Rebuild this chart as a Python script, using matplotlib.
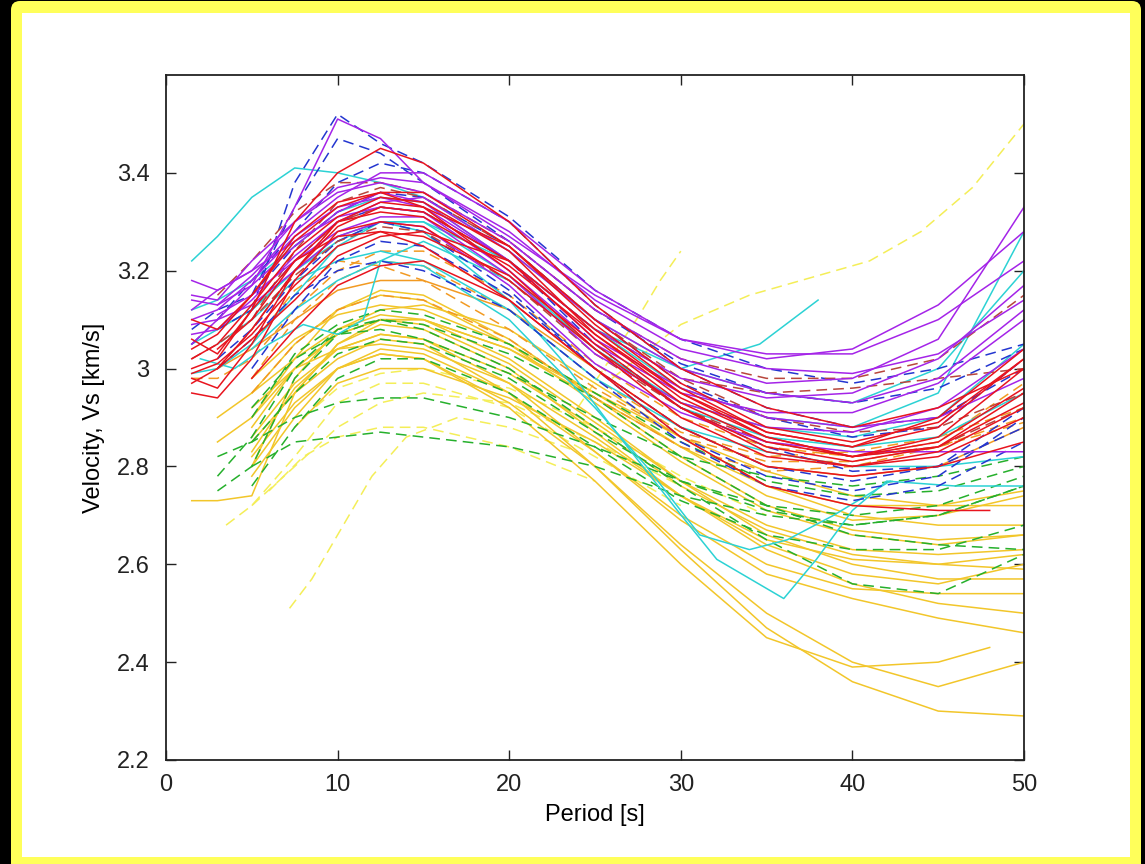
import numpy as np
import matplotlib
matplotlib.use("Agg")
import matplotlib.pyplot as plt
from matplotlib.patches import FancyBboxPatch, Rectangle
from matplotlib.transforms import IdentityTransform

nan = np.nan

# common period grid (s)
period = [1.5, 3, 5, 7.5, 10, 12.5, 15, 20, 25, 30, 35, 40, 45, 50]

purple_solid = [
    [3.05, 3.10, 3.17, 3.33, 3.51, 3.47, 3.38, 3.27, 3.15, 3.06, 3.03, 3.03, 3.10, 3.22],
    [3.15, 3.14, 3.22, 3.30, 3.36, 3.38, 3.36, 3.26, 3.12, 3.02, 2.97, 2.98, 3.06, 3.33],
    [3.10, 3.12, 3.18, 3.27, 3.33, 3.35, 3.33, 3.22, 3.08, 2.98, 2.94, 2.95, 3.02, 3.17],
    [3.12, 3.16, 3.20, 3.26, 3.31, 3.33, 3.32, 3.20, 3.05, 2.95, 2.91, 2.91, 2.97, 3.10],
    [3.07, 3.08, 3.14, 3.23, 3.30, 3.34, 3.35, 3.24, 3.10, 3.00, 2.95, 2.93, 2.98, 3.12],
    [nan, 3.11, 3.15, 3.22, 3.28, 3.31, 3.31, 3.19, 3.03, 2.93, 2.88, 2.87, 2.92, 3.04],
    [3.18, 3.16, 3.20, 3.30, 3.37, 3.39, 3.38, 3.28, 3.14, 3.04, 3.00, 2.99, 3.03, 3.14],
    [nan, 3.13, 3.17, 3.25, 3.32, 3.36, 3.34, 3.22, 3.06, 2.96, 2.90, 2.88, 2.90, 2.98],
    [3.09, 3.10, 3.13, 3.20, 3.27, 3.30, 3.29, 3.17, 3.01, 2.91, 2.85, 2.83, 2.83, 2.83],
    [3.14, 3.13, 3.19, 3.28, 3.35, 3.40, 3.40, 3.30, 3.16, 3.06, 3.02, 3.04, 3.13, 3.28],
]

red_solid = [
    [3.00, 3.02, 3.12, 3.30, 3.40, 3.45, 3.42, 3.30, 3.13, 3.00, 2.92, 2.88, 2.92, 3.00],
    [2.95, 2.94, 3.02, 3.18, 3.28, 3.30, 3.29, 3.18, 3.04, 2.92, 2.84, 2.81, 2.84, 2.95],
    [2.97, 3.00, 3.08, 3.20, 3.29, 3.33, 3.32, 3.22, 3.06, 2.93, 2.85, 2.82, 2.86, 3.00],
    [3.02, 3.05, 3.13, 3.24, 3.31, 3.35, 3.34, 3.24, 3.07, 2.94, 2.86, 2.82, 2.85, 2.96],
    [3.10, 3.08, 3.15, 3.26, 3.33, 3.36, 3.36, 3.25, 3.09, 2.96, 2.87, 2.84, 2.88, 3.02],
    [2.99, 3.01, 3.07, 3.17, 3.25, 3.28, 3.27, 3.19, 3.05, 2.92, 2.83, 2.80, 2.83, 2.92],
    [nan, 3.04, 3.10, 3.22, 3.30, 3.32, 3.31, 3.21, 3.07, 2.95, 2.87, 2.84, 2.90, 3.04],
    [3.06, 3.03, 3.12, 3.22, 3.27, 3.28, 3.25, 3.14, 3.00, 2.88, 2.80, 2.78, 2.80, 2.85],
    [3.04, 3.07, 3.15, 3.27, 3.34, 3.36, 3.33, 3.20, 3.04, 2.90, 2.82, 2.80, 2.82, 2.90],
    [2.98, 2.96, 3.05, 3.20, 3.30, 3.34, 3.33, 3.25, 3.10, 2.97, 2.88, 2.85, 2.89, 3.02],
    [nan, 3.00, 3.06, 3.14, 3.23, 3.27, 3.28, 3.22, 3.08, 2.95, 2.86, 2.82, 2.84, 2.93],
]
red_short_x = [5, 7.5, 10, 12.5, 15, 20, 25, 30, 35, 40, 45, 48]
red_short_y = [2.98, 3.08, 3.17, 3.21, 3.22, 3.14, 3.00, 2.86, 2.76, 2.72, 2.71, 2.71]

cyan_solid = [
    [3.22, 3.27, 3.35, 3.41, 3.40, 3.38, 3.35, 3.24, 3.10, 3.00, 2.95, 2.93, 3.00, 3.20],
    [2.99, 3.00, 3.05, 3.15, 3.25, 3.30, 3.30, 3.22, 3.08, 2.96, 2.90, 2.88, 2.95, 3.28],
    [3.05, 3.08, 3.12, 3.20, 3.26, 3.30, 3.30, 3.19, 3.04, 2.93, 2.88, 2.86, 2.90, 3.05],
    [nan, 3.05, 3.10, 3.18, 3.22, 3.24, 3.22, 3.12, 2.98, 2.88, 2.83, 2.80, 2.80, 2.82],
]
cyan_a_x = [1.5, 3, 5, 7.5, 10, 12.5, 15, 20, 25, 30, 34.6, 38]
cyan_a_y = [3.12, 3.14, 3.18, 3.25, 3.32, 3.35, 3.34, 3.22, 3.08, 3.00, 3.05, 3.14]
cyan_b_x = [3, 5, 7.5, 10, 12.5, 15, 20, 23, 26, 29.8, 32.1, 36, 37.9, 40, 42, 46, 50]
cyan_b_y = [3.08, 3.12, 3.20, 3.27, 3.30, 3.28, 3.14, 3.02, 2.88, 2.71, 2.61, 2.53, 2.61, 2.71, 2.77, 2.76, 2.76]
cyan_c_x = [5, 7.5, 10, 12.5, 15, 20, 25, 28, 31.1, 34, 36.2, 38.9, 42.2]
cyan_c_y = [3.04, 3.12, 3.18, 3.22, 3.21, 3.10, 2.92, 2.80, 2.66, 2.63, 2.65, 2.70, 2.77]
cyan_d_x = [2, 4, 6, 8, 10, 11.5, 12.5, 15, 20, 25, 30, 35, 40, 45, 50]
cyan_d_y = [3.02, 3.00, 3.05, 3.09, 3.07, 3.10, 3.22, 3.26, 3.18, 3.04, 2.92, 2.86, 2.84, 2.86, 2.95]

blue_dashed = [
    [nan, nan, 3.12, 3.38, 3.52, 3.46, 3.42, 3.31, 3.16, 3.06, 3.00, 2.97, 3.00, 3.05],
    [3.05, 3.10, 3.18, 3.28, 3.38, 3.42, 3.40, 3.30, 3.13, 3.00, 2.92, 2.88, 2.90, 3.00],
    [nan, 3.08, 3.12, 3.22, 3.30, 3.33, 3.32, 3.22, 3.05, 2.92, 2.84, 2.79, 2.80, 2.88],
    [nan, 3.02, 3.08, 3.18, 3.26, 3.30, 3.28, 3.16, 3.00, 2.86, 2.78, 2.75, 2.78, 2.90],
    [3.08, 3.12, 3.15, 3.25, 3.32, 3.36, 3.35, 3.25, 3.10, 2.97, 2.90, 2.86, 2.88, 3.02],
    [nan, nan, 3.00, 3.12, 3.22, 3.26, 3.25, 3.15, 3.00, 2.88, 2.80, 2.77, 2.80, 2.92],
    [nan, 3.00, 3.06, 3.15, 3.20, 3.22, 3.20, 3.12, 2.98, 2.85, 2.76, 2.73, 2.76, 2.85],
    [nan, nan, 3.15, 3.33, 3.47, 3.44, 3.38, 3.26, 3.12, 3.01, 2.95, 2.93, 2.96, 3.04],
]

brown_dashed = [
    [nan, 3.15, 3.22, 3.32, 3.38, 3.38, 3.36, 3.26, 3.12, 3.02, 2.98, 2.98, 3.02, 3.15],
    [nan, 3.00, 3.08, 3.20, 3.30, 3.33, 3.32, 3.22, 3.08, 2.98, 2.95, 2.96, 2.98, 3.00],
    [nan, nan, 3.10, 3.24, 3.34, 3.37, 3.35, 3.25, 3.10, 2.98, 2.90, 2.87, 2.88, 2.95],
    [3.02, 3.05, 3.10, 3.19, 3.26, 3.29, 3.28, 3.18, 3.03, 2.92, 2.85, 2.82, 2.84, 2.92],
]

orange_solid = [
    [nan, 3.00, 3.04, 3.10, 3.16, 3.18, 3.18, 3.12, 3.00, 2.88, 2.80, 2.78, 2.80, 2.88],
]
orange_dashed = [
    [nan, nan, 2.98, 3.10, 3.18, 3.22, 3.21, 3.12, 2.98, 2.87, 2.82, 2.83, 2.86, 2.92],
    [nan, nan, 2.95, 3.05, 3.12, 3.15, 3.14, 3.06, 2.94, 2.84, 2.79, 2.80, 2.84, 2.90],
    [2.98, 2.98, 3.02, 3.12, 3.20, 3.24, 3.24, 3.15, 3.01, 2.90, 2.84, 2.82, 2.85, 2.97],
    [nan, nan, 3.05, 3.16, 3.22, 3.21, 3.18, 3.08, 2.96, 2.86, 2.81, 2.81, 2.84, 2.89],
]

gold_solid = [
    [2.73, 2.73, 2.74, 2.95, 3.05, 3.09, 3.08, 3.00, 2.87, 2.74, 2.63, 2.56, 2.52, 2.50],
    [nan, nan, 2.80, 2.98, 3.08, 3.11, 3.10, 3.02, 2.90, 2.77, 2.66, 2.60, 2.57, 2.57],
    [nan, 2.85, 2.90, 3.02, 3.12, 3.16, 3.15, 3.06, 2.94, 2.82, 2.72, 2.67, 2.65, 2.66],
    [nan, nan, 2.88, 3.00, 3.07, 3.10, 3.10, 3.04, 2.94, 2.84, 2.76, 2.72, 2.72, 2.75],
    [nan, nan, 2.92, 3.00, 3.04, 3.05, 3.04, 2.97, 2.86, 2.74, 2.64, 2.58, 2.56, 2.60],
    [nan, nan, 2.78, 2.90, 3.00, 3.04, 3.03, 2.95, 2.83, 2.70, 2.60, 2.55, 2.54, 2.54],
    [nan, nan, 2.85, 2.95, 3.02, 3.06, 3.05, 2.95, 2.80, 2.63, 2.47, 2.36, 2.30, 2.29],
    [nan, nan, 2.82, 2.93, 3.00, 3.03, 3.02, 2.93, 2.80, 2.64, 2.50, 2.40, 2.35, 2.40],
    [nan, nan, 2.86, 2.97, 3.04, 3.07, 3.06, 2.97, 2.83, 2.69, 2.58, 2.53, 2.49, 2.46],
    [nan, nan, 2.90, 3.00, 3.07, 3.10, 3.09, 3.01, 2.89, 2.77, 2.68, 2.63, 2.62, 2.63],
    [nan, nan, nan, 2.95, 3.05, 3.10, 3.10, 3.04, 2.95, 2.86, 2.79, 2.74, 2.72, 2.72],
    [nan, nan, 2.95, 3.05, 3.12, 3.15, 3.14, 3.05, 2.93, 2.81, 2.71, 2.66, 2.64, 2.66],
    [nan, nan, 2.83, 2.96, 3.04, 3.07, 3.06, 2.99, 2.88, 2.76, 2.67, 2.62, 2.60, 2.59],
    [nan, 2.90, 2.95, 3.02, 3.08, 3.12, 3.13, 3.08, 2.97, 2.86, 2.76, 2.70, 2.68, 2.68],
    [nan, nan, 2.98, 3.06, 3.11, 3.13, 3.12, 3.05, 2.95, 2.84, 2.74, 2.69, 2.70, 2.74],
    [nan, nan, nan, 2.88, 2.97, 3.00, 3.00, 2.94, 2.85, 2.74, 2.65, 2.61, 2.60, 2.62],
]
gold_short_x = [5, 7.5, 10, 12.5, 15, 20, 25, 30, 35, 40, 45, 48]
gold_short_y = [2.80, 2.92, 3.00, 3.03, 3.02, 2.92, 2.77, 2.60, 2.45, 2.39, 2.40, 2.43]

green_dashed = [
    [nan, 2.75, 2.80, 2.98, 3.07, 3.10, 3.09, 3.03, 2.94, 2.82, 2.72, 2.66, 2.64, 2.63],
    [nan, 2.78, 2.86, 3.00, 3.08, 3.10, 3.08, 3.00, 2.88, 2.76, 2.65, 2.56, 2.54, 2.62],
    [nan, nan, 2.80, 2.85, 2.86, 2.87, 2.86, 2.84, 2.80, 2.74, 2.70, 2.68, 2.70, 2.76],
    [nan, 2.82, 2.85, 2.90, 2.93, 2.94, 2.94, 2.90, 2.84, 2.77, 2.72, 2.70, 2.72, 2.78],
    [nan, nan, 2.90, 3.03, 3.09, 3.12, 3.11, 3.05, 2.95, 2.85, 2.77, 2.74, 2.75, 2.80],
    [nan, nan, 2.85, 2.95, 3.03, 3.06, 3.05, 2.98, 2.87, 2.77, 2.71, 2.68, 2.70, 2.76],
    [nan, nan, 2.76, 2.88, 2.98, 3.02, 3.02, 2.95, 2.84, 2.73, 2.66, 2.63, 2.63, 2.68],
    [nan, nan, 2.92, 3.02, 3.07, 3.08, 3.06, 2.99, 2.90, 2.82, 2.78, 2.76, 2.78, 2.82],
]

# light yellow dashed pieces, each (periods, velocities)
lightyellow_dashed = [
    ([26, 30, 34, 38, 41, 44, 47, 50], [2.98, 3.09, 3.15, 3.19, 3.22, 3.28, 3.37, 3.50]),
    ([24, 25.7, 27.6, 28.8, 30], [2.92, 3.01, 3.11, 3.18, 3.24]),
    ([7.2, 8.5, 10, 12, 14, 17, 20, 24], [2.51, 2.57, 2.66, 2.78, 2.86, 2.90, 2.88, 2.83]),
    ([5, 7.5, 10, 12.5, 15, 20, 25, 30], [2.72, 2.80, 2.88, 2.93, 2.95, 2.93, 2.85, 2.76]),
    ([3.5, 5, 7.5, 10, 12.5, 15, 20, 25, 30], [2.68, 2.72, 2.82, 2.93, 2.97, 2.97, 2.92, 2.82, 2.72]),
    ([6, 8, 10, 12.5, 15, 20, 25], [2.75, 2.82, 2.86, 2.88, 2.88, 2.84, 2.77]),
    ([8, 10, 12.5, 15, 20, 25, 30, 35], [2.90, 2.96, 2.99, 3.00, 2.96, 2.88, 2.78, 2.70]),
]

C_PURPLE = "#a424e8"
C_RED = "#e8141e"
C_CYAN = "#2cd2d4"
C_BLUE = "#2436d0"
C_BROWN = "#b8463c"
C_ORANGE = "#f29a22"
C_GOLD = "#f2c62a"
C_GREEN = "#26b02c"
C_LYELLOW = "#f4ee58"

lw = 1.1
dash = (7, 4)

fig = plt.figure(figsize=(11.45, 8.64), dpi=100, facecolor="black")
# yellow rounded frame and white page (pixel coords), kept under the axes
fig.patches.append(FancyBboxPatch((11, -20), 1130, 883, boxstyle="round,pad=0,rounding_size=9",
                                  transform=IdentityTransform(), facecolor="#ffff5a",
                                  edgecolor="none", figure=fig, zorder=-3))
fig.patches.append(Rectangle((22, 7), 1108, 844, transform=IdentityTransform(),
                             facecolor="white", edgecolor="none", figure=fig, zorder=-2))

ax = fig.add_axes([166 / 1145, 104 / 864, 858 / 1145, 685 / 864])

for xs, ys in lightyellow_dashed:
    ax.plot(xs, ys, color=C_LYELLOW, lw=lw, dashes=dash)
for v in gold_solid:
    ax.plot(period, v, color=C_GOLD, lw=lw)
ax.plot(gold_short_x, gold_short_y, color=C_GOLD, lw=lw)
for v in green_dashed:
    ax.plot(period, v, color=C_GREEN, lw=lw, dashes=dash)
for v in orange_solid:
    ax.plot(period, v, color=C_ORANGE, lw=lw)
for v in orange_dashed:
    ax.plot(period, v, color=C_ORANGE, lw=lw, dashes=dash)
for v in cyan_solid:
    ax.plot(period, v, color=C_CYAN, lw=lw)
for xs, ys in [(cyan_a_x, cyan_a_y), (cyan_b_x, cyan_b_y), (cyan_c_x, cyan_c_y), (cyan_d_x, cyan_d_y)]:
    ax.plot(xs, ys, color=C_CYAN, lw=lw)
for v in blue_dashed:
    ax.plot(period, v, color=C_BLUE, lw=lw, dashes=dash)
for v in brown_dashed:
    ax.plot(period, v, color=C_BROWN, lw=lw, dashes=dash)
for v in purple_solid:
    ax.plot(period, v, color=C_PURPLE, lw=lw)
for v in red_solid:
    ax.plot(period, v, color=C_RED, lw=lw)
ax.plot(red_short_x, red_short_y, color=C_RED, lw=lw)

ax.set_xlim(0, 50)
ax.set_ylim(2.2, 3.6)
ax.set_xticks([0, 10, 20, 30, 40, 50])
ax.set_yticks([2.2, 2.4, 2.6, 2.8, 3.0, 3.2, 3.4])
ax.set_yticklabels(["2.2", "2.4", "2.6", "2.8", "3", "3.2", "3.4"])
ax.tick_params(direction="in", length=7, width=1, top=True, right=True,
               labelsize=17, colors="#222222")
ax.tick_params(axis="y", pad=12)
ax.tick_params(axis="x", pad=10)
for s in ax.spines.values():
    s.set_linewidth(1.3)
    s.set_color("#222222")
ax.set_xlabel("Period [s]", fontsize=17, labelpad=6)
ax.set_ylabel("Velocity, Vs [km/s]", fontsize=17, labelpad=8)
for t in ax.get_xticklabels() + ax.get_yticklabels():
    t.set_family("Liberation Sans")
ax.xaxis.label.set_family("Liberation Sans")
ax.yaxis.label.set_family("Liberation Sans")

fig.savefig("out.png", dpi=100, facecolor=fig.get_facecolor())
